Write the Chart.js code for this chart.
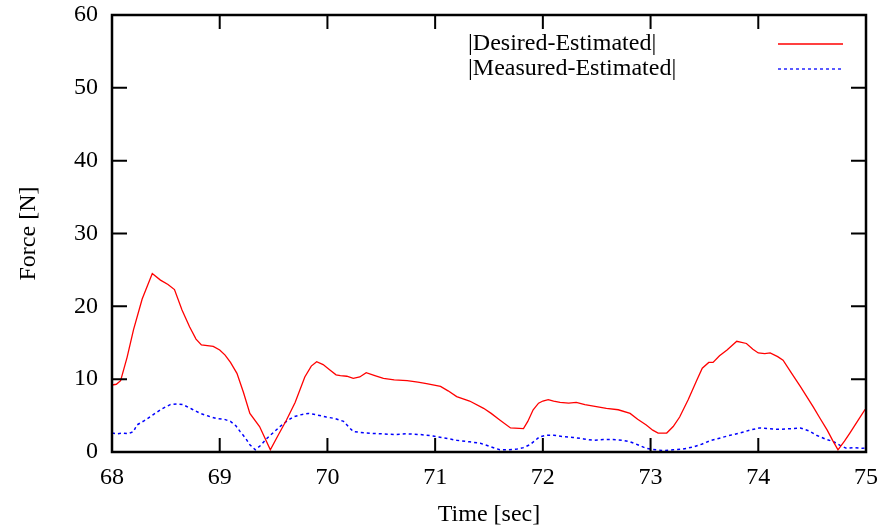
<!DOCTYPE html>
<html>
<head>
<meta charset="utf-8">
<script src="https://cdn.jsdelivr.net/npm/chart.js@4"></script>
<style>
  html, body { margin: 0; padding: 0; background: #fff; }
  #wrap { width: 887px; height: 529px; }
</style>
</head>
<body>
<div id="wrap"><canvas id="myChart"></canvas></div>
<script>
// |Desired-Estimated| (red, solid)
var desiredTime = [68.00, 68.04, 68.08, 68.14, 68.20, 68.28, 68.374, 68.45, 68.52, 68.58, 68.65, 68.72, 68.78, 68.83, 68.94, 69.00, 69.05, 69.10, 69.16, 69.22, 69.28, 69.37, 69.47, 69.55, 69.62, 69.70, 69.79, 69.85, 69.90, 69.96, 70.02, 70.08, 70.12, 70.18, 70.24, 70.30, 70.36, 70.44, 70.52, 70.62, 70.74, 70.84, 70.92, 71.05, 71.12, 71.20, 71.32, 71.45, 71.52, 71.60, 71.70, 71.82, 71.86, 71.91, 71.96, 72.00, 72.05, 72.10, 72.16, 72.24, 72.31, 72.39, 72.47, 72.59, 72.70, 72.81, 72.88, 72.96, 73.02, 73.07, 73.15, 73.21, 73.27, 73.35, 73.43, 73.48, 73.54, 73.58, 73.64, 73.71, 73.80, 73.89, 73.95, 74.00, 74.06, 74.11, 74.18, 74.23, 74.31, 74.39, 74.45, 74.51, 74.57, 74.64, 74.69, 74.74, 74.80, 74.85, 74.92, 74.99, 75.00];
var desiredForce = [9.2, 9.3, 9.8, 13.0, 16.8, 21.0, 24.5, 23.6, 23.0, 22.3, 19.5, 17.2, 15.5, 14.7, 14.5, 14.0, 13.3, 12.3, 10.8, 8.2, 5.3, 3.5, 0.3, 2.5, 4.4, 6.8, 10.3, 11.8, 12.4, 12.0, 11.3, 10.6, 10.5, 10.4, 10.1, 10.3, 10.9, 10.5, 10.1, 9.9, 9.8, 9.6, 9.4, 9.0, 8.4, 7.6, 7.0, 6.0, 5.3, 4.4, 3.3, 3.2, 4.2, 5.8, 6.7, 7.0, 7.2, 7.0, 6.8, 6.7, 6.8, 6.5, 6.3, 6.0, 5.8, 5.3, 4.5, 3.7, 3.0, 2.6, 2.6, 3.5, 4.8, 7.2, 9.9, 11.5, 12.3, 12.3, 13.2, 14.0, 15.2, 14.9, 14.1, 13.6, 13.5, 13.6, 13.1, 12.6, 10.8, 9.0, 7.6, 6.2, 4.7, 3.0, 1.6, 0.3, 1.5, 2.6, 4.2, 5.8, 5.9];

// |Measured-Estimated| (blue, dashed)
var measuredTime = [68.00, 68.05, 68.10, 68.15, 68.20, 68.23, 68.30, 68.38, 68.46, 68.54, 68.60, 68.66, 68.74, 68.82, 68.90, 68.97, 69.04, 69.10, 69.15, 69.19, 69.24, 69.28, 69.33, 69.38, 69.44, 69.50, 69.56, 69.62, 69.68, 69.75, 69.82, 69.90, 69.99, 70.07, 70.15, 70.20, 70.24, 70.30, 70.36, 70.50, 70.62, 70.74, 70.86, 70.98, 71.10, 71.20, 71.32, 71.42, 71.52, 71.60, 71.68, 71.76, 71.82, 71.88, 71.93, 71.97, 72.04, 72.10, 72.20, 72.28, 72.38, 72.47, 72.56, 72.65, 72.74, 72.81, 72.88, 72.96, 73.05, 73.12, 73.21, 73.30, 73.40, 73.48, 73.56, 73.64, 73.74, 73.83, 73.92, 74.01, 74.10, 74.20, 74.30, 74.39, 74.47, 74.54, 74.62, 74.70, 74.76, 74.82, 74.90, 74.97, 75.00];
var measuredForce = [2.6, 2.5, 2.6, 2.5, 2.8, 3.7, 4.3, 5.1, 5.9, 6.5, 6.6, 6.5, 5.9, 5.3, 4.9, 4.6, 4.5, 4.2, 3.6, 2.8, 1.9, 1.0, 0.3, 0.9, 1.9, 2.7, 3.5, 4.2, 4.8, 5.1, 5.3, 5.1, 4.8, 4.6, 4.2, 3.4, 2.8, 2.7, 2.6, 2.5, 2.4, 2.5, 2.4, 2.2, 1.9, 1.6, 1.4, 1.2, 0.7, 0.3, 0.3, 0.4, 0.6, 1.0, 1.6, 2.1, 2.3, 2.3, 2.1, 2.0, 1.8, 1.6, 1.7, 1.7, 1.6, 1.4, 1.0, 0.5, 0.3, 0.2, 0.3, 0.4, 0.7, 1.1, 1.6, 1.9, 2.3, 2.6, 3.0, 3.3, 3.2, 3.1, 3.2, 3.3, 2.9, 2.3, 1.8, 1.4, 0.9, 0.5, 0.6, 0.5, 0.6];

var xTicks = [68, 69, 70, 71, 72, 73, 74, 75];
var yTicks = [0, 10, 20, 30, 40, 50, 60];

var serif = '"Liberation Serif", "DejaVu Serif", serif';
var fontSize = 24;

function toPoints(xs, ys) {
    return xs.map(function (x, i) { return { x: x, y: ys[i] }; });
}

// gnuplot style: ticks pointing inward on all four sides + legend top right
var gnuplotFrame = {
    id: 'gnuplotFrame',
    afterDatasetsDraw: function (chart) {
        var ctx = chart.ctx;
        var a = chart.chartArea;
        var xs = chart.scales.x, ys = chart.scales.y;
        ctx.save();
        ctx.strokeStyle = '#000';
        ctx.lineWidth = 2.5;
        ctx.strokeRect(a.left, a.top, a.right - a.left, a.bottom - a.top);
        ctx.lineWidth = 2;
        ctx.beginPath();
        xTicks.forEach(function (v) {
            var px = xs.getPixelForValue(v);
            ctx.moveTo(px, a.bottom); ctx.lineTo(px, a.bottom - 14);
            ctx.moveTo(px, a.top); ctx.lineTo(px, a.top + 14);
        });
        yTicks.forEach(function (v) {
            var py = ys.getPixelForValue(v);
            ctx.moveTo(a.left, py); ctx.lineTo(a.left + 15, py);
            ctx.moveTo(a.right, py); ctx.lineTo(a.right - 15, py);
        });
        ctx.stroke();

        // legend
        ctx.font = fontSize + 'px ' + serif;
        ctx.textBaseline = 'middle';
        ctx.textAlign = 'left';
        chart.data.datasets.forEach(function (ds, i) {
            var y = a.top + 29 + i * 25;
            ctx.fillStyle = '#000';
            ctx.fillText(ds.label, a.left + 356, y);
            ctx.strokeStyle = ds.borderColor;
            ctx.lineWidth = 1.3;
            ctx.setLineDash(ds.borderDash || []);
            ctx.beginPath();
            ctx.moveTo(a.right - 88, y); ctx.lineTo(a.right - 23, y);
            ctx.stroke();
            ctx.setLineDash([]);
        });
        ctx.restore();
    }
};

var config = {
    type: 'line',
    data: {
        datasets: [{
            label: '|Desired-Estimated|',
            data: toPoints(desiredTime, desiredForce),
            borderColor: '#ff0000',
            borderWidth: 1.3,
            pointRadius: 0,
            tension: 0,
            fill: false
        }, {
            label: '|Measured-Estimated|',
            data: toPoints(measuredTime, measuredForce),
            borderColor: '#0000ff',
            borderWidth: 1.5,
            borderDash: [3, 3],
            pointRadius: 0,
            tension: 0,
            fill: false
        }]
    },
    options: {
        responsive: true,
        maintainAspectRatio: false,
        animation: false,
        layout: { padding: { top: 15, right: 21, left: 0, bottom: 0 } },
        scales: {
            x: {
                type: 'linear',
                min: 68,
                max: 75,
                afterFit: function (scale) {
                    scale.height = 77;
                    scale.paddingLeft = 0; scale.paddingRight = 0;
                },
                afterBuildTicks: function (scale) {
                    scale.ticks = xTicks.map(function (v) { return { value: v }; });
                },
                grid: { display: false, drawTicks: false },
                border: { display: false },
                ticks: { color: '#000', padding: 11, maxRotation: 0, font: { family: serif, size: fontSize } },
                title: { display: true, text: 'Time [sec]', color: '#000', padding: { top: 4, bottom: 0 }, font: { family: serif, size: fontSize } }
            },
            y: {
                min: 0,
                max: 60,
                afterFit: function (scale) {
                    scale.width = 112;
                    scale.paddingTop = 0; scale.paddingBottom = 0;
                },
                afterBuildTicks: function (scale) {
                    scale.ticks = yTicks.map(function (v) { return { value: v }; });
                },
                grid: { display: false, drawTicks: false },
                border: { display: false },
                ticks: { color: '#000', padding: 14, font: { family: serif, size: fontSize } },
                title: { display: true, text: 'Force [N]', color: '#000', padding: { top: 14, bottom: 0 }, font: { family: serif, size: fontSize } }
            }
        },
        plugins: {
            legend: { display: false },
            tooltip: { enabled: false }
        }
    },
    plugins: [gnuplotFrame]
};

new Chart(document.getElementById('myChart').getContext('2d'), config);
</script>
</body>
</html>
